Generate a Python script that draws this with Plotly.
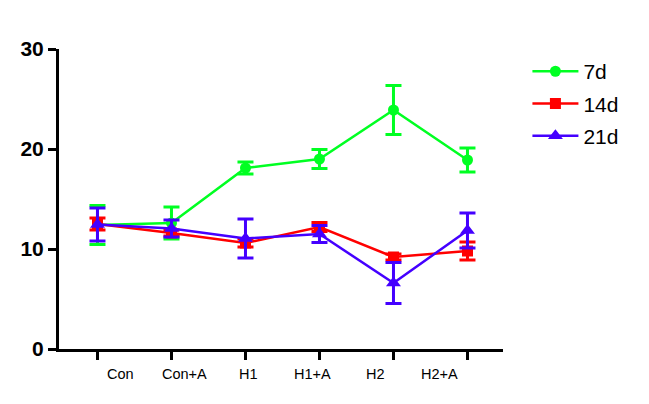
import plotly.graph_objects as go

categories = ["Con", "Con+A", "H1", "H1+A", "H2", "H2+A"]
series_names = ["7d", "14d", "21d"]
mean_7d = [12.4, 12.6, 18.1, 19.0, 23.9, 18.9]
err_7d = [1.95, 1.6, 0.6, 0.95, 2.45, 1.2]
mean_14d = [12.5, 11.6, 10.6, 12.2, 9.2, 9.8]
err_14d = [0.6, 0.3, 0.4, 0.45, 0.3, 0.9]
mean_21d = [12.45, 12.05, 11.05, 11.5, 6.6, 11.85]
err_21d = [1.65, 0.85, 1.95, 0.85, 2.05, 1.75]
y_ticks = [0, 10, 20, 30]

FONT = "Arial, Liberation Sans, sans-serif"
styles = [
    ("#00FF22", "circle", 11),
    ("#FF0000", "square", 11),
    ("#4400FF", "triangle-up", 13),
]
means = [mean_7d, mean_14d, mean_21d]
errs = [err_7d, err_14d, err_21d]
xs = list(range(len(categories)))

fig = go.Figure()
for name, m, e, (col, sym, sz) in zip(series_names, means, errs, styles):
    fig.add_trace(go.Scatter(
        x=xs, y=m, name=name, mode="lines+markers",
        line=dict(color=col, width=2.5),
        marker=dict(color=col, symbol=sym, size=sz),
        error_y=dict(type="data", array=e, visible=True, color=col,
                     thickness=3, width=8),
        legendgroup=name,
    ))

# category labels (drawn slightly offset, as in the original)
for i, c in enumerate(categories):
    fig.add_annotation(x=0.307 + 0.864 * i, y=-0.05, xref="x", yref="paper",
                       text=c, showarrow=False, yanchor="top",
                       font=dict(family=FONT, size=14.5, color="black"))

fig.update_layout(
    width=641, height=396,
    margin=dict(l=45, r=146, t=41, b=55),
    paper_bgcolor="white", plot_bgcolor="white",
    showlegend=True,
    legend=dict(x=1.055, y=0.993, xanchor="left", yanchor="top",
                font=dict(family=FONT, size=21, color="black"),
                tracegroupgap=2, itemwidth=46, bgcolor="rgba(0,0,0,0)"),
    font=dict(family=FONT, color="black"),
)
fig.update_xaxes(
    range=[-0.52, 5.48], tickvals=xs, ticktext=[""] * len(xs),
    showline=True, linecolor="black", linewidth=3,
    ticks="outside", ticklen=8, tickwidth=3, tickcolor="black",
    showgrid=False, zeroline=False,
)
fig.update_yaxes(
    range=[0, 30], tickvals=y_ticks,
    showline=True, linecolor="black", linewidth=3,
    ticks="outside", ticklen=8, tickwidth=3, tickcolor="black",
    tickfont=dict(family=FONT, size=21, color="black", weight="bold"),
    showgrid=False, zeroline=False,
)
fig.write_html("out.html")
